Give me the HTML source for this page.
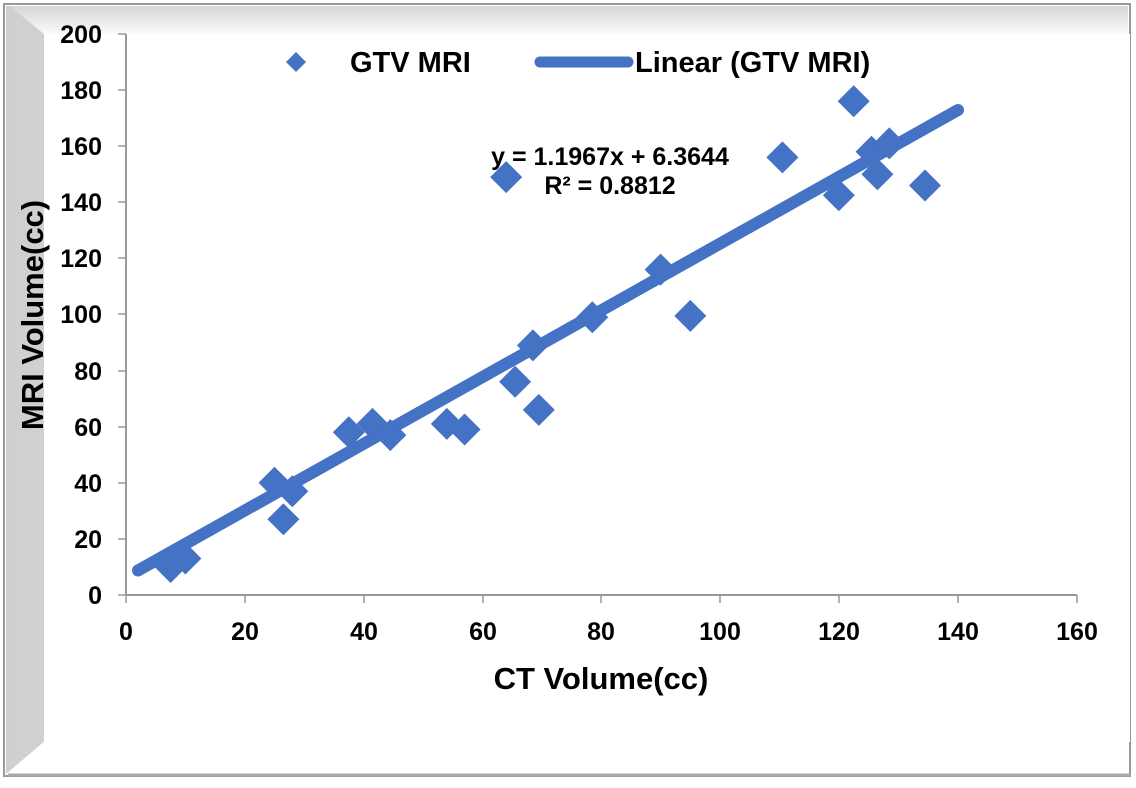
<!DOCTYPE html>
<html><head><style>
body{margin:0;background:#fff;}
svg text{font-family:"Liberation Sans",Arial,sans-serif;font-weight:bold;fill:#000;}
</style></head><body>
<svg width="1136" height="783" viewBox="0 0 1136 783" xmlns="http://www.w3.org/2000/svg">
<defs>
<linearGradient id="gl" x1="0" x2="1"><stop offset="0" stop-color="#cfcfcf"/><stop offset="1" stop-color="#fcfcfc"/></linearGradient>
<linearGradient id="gt" y1="0" y2="1" x1="0" x2="0"><stop offset="0" stop-color="#d6d6d6"/><stop offset="1" stop-color="#fafafa"/></linearGradient>
</defs>
<rect x="4" y="4" width="1126" height="772" fill="#fff" stroke="#999" stroke-width="2"/>
<polygon points="6,6 1128,6 1128,34 46,34 46,740 6,774" fill="url(#gl)"/>
<polygon points="10,6 1128,6 1128,34 44,34" fill="url(#gt)"/>
<rect x="44" y="34" width="1086" height="708" fill="#fff"/>
<line x1="8" y1="775" x2="1130" y2="775" stroke="#aaa" stroke-width="3"/>
<g stroke="#999" stroke-width="2">
<line x1="126" y1="34" x2="126" y2="595"/>
<line x1="126" y1="595" x2="1077" y2="595"/>
</g>
<g stroke="#999" stroke-width="1.5">
<line x1="118" y1="34" x2="126" y2="34"/><line x1="118" y1="90" x2="126" y2="90"/><line x1="118" y1="146" x2="126" y2="146"/><line x1="118" y1="202" x2="126" y2="202"/><line x1="118" y1="258" x2="126" y2="258"/><line x1="118" y1="314" x2="126" y2="314"/><line x1="118" y1="371" x2="126" y2="371"/><line x1="118" y1="427" x2="126" y2="427"/><line x1="118" y1="483" x2="126" y2="483"/><line x1="118" y1="539" x2="126" y2="539"/><line x1="118" y1="595" x2="126" y2="595"/>
<line x1="126" y1="595" x2="126" y2="603"/><line x1="245" y1="595" x2="245" y2="603"/><line x1="364" y1="595" x2="364" y2="603"/><line x1="483" y1="595" x2="483" y2="603"/><line x1="601" y1="595" x2="601" y2="603"/><line x1="720" y1="595" x2="720" y2="603"/><line x1="839" y1="595" x2="839" y2="603"/><line x1="958" y1="595" x2="958" y2="603"/><line x1="1077" y1="595" x2="1077" y2="603"/>
</g>
<g font-size="25" text-anchor="end">
<text x="102" y="43">200</text><text x="102" y="99">180</text><text x="102" y="155">160</text><text x="102" y="211">140</text><text x="102" y="267">120</text><text x="102" y="323">100</text><text x="102" y="380">80</text><text x="102" y="436">60</text><text x="102" y="492">40</text><text x="102" y="548">20</text><text x="102" y="604">0</text>
</g>
<g font-size="25" text-anchor="middle">
<text x="126" y="640">0</text><text x="245" y="640">20</text><text x="364" y="640">40</text><text x="483" y="640">60</text><text x="601" y="640">80</text><text x="720" y="640">100</text><text x="839" y="640">120</text><text x="958" y="640">140</text><text x="1077" y="640">160</text>
</g>
<text x="601" y="689" font-size="31" text-anchor="middle">CT Volume(cc)</text>
<text transform="translate(43,315) rotate(-90)" font-size="31" text-anchor="middle">MRI Volume(cc)</text>
<path d="M296,52 l10,10 -10,10 -10,-10z" fill="#4472c4"/>
<line x1="540" y1="62" x2="628" y2="62" stroke="#4472c4" stroke-width="11" stroke-linecap="round"/>
<text x="350" y="72" font-size="29">GTV MRI</text>
<text x="635" y="72" font-size="29">Linear (GTV MRI)</text>
<line x1="138" y1="570.5" x2="958" y2="110" stroke="#4472c4" stroke-width="12" stroke-linecap="round"/>
<g fill="#4472c4">
<path d="M170.6,551 l16,16 -16,16 -16,-16z"/>
<path d="M185.4,542.5 l16,16 -16,16 -16,-16z"/>
<path d="M274.5,466.8 l16,16 -16,16 -16,-16z"/>
<path d="M283.4,503.3 l16,16 -16,16 -16,-16z"/>
<path d="M292.3,475.2 l16,16 -16,16 -16,-16z"/>
<path d="M348.8,416.3 l16,16 -16,16 -16,-16z"/>
<path d="M372.5,407.9 l16,16 -16,16 -16,-16z"/>
<path d="M390.3,419.1 l16,16 -16,16 -16,-16z"/>
<path d="M446.8,407.9 l16,16 -16,16 -16,-16z"/>
<path d="M464.6,413.5 l16,16 -16,16 -16,-16z"/>
<path d="M506.2,161.1 l16,16 -16,16 -16,-16z"/>
<path d="M515.1,365.8 l16,16 -16,16 -16,-16z"/>
<path d="M532.9,329.4 l16,16 -16,16 -16,-16z"/>
<path d="M538.8,393.9 l16,16 -16,16 -16,-16z"/>
<path d="M592.3,301.3 l16,16 -16,16 -16,-16z"/>
<path d="M660.6,253.6 l16,16 -16,16 -16,-16z"/>
<path d="M690.3,299.9 l16,16 -16,16 -16,-16z"/>
<path d="M782.4,141.4 l16,16 -16,16 -16,-16z"/>
<path d="M838.8,179.3 l16,16 -16,16 -16,-16z"/>
<path d="M853.7,85.3 l16,16 -16,16 -16,-16z"/>
<path d="M871.5,135.8 l16,16 -16,16 -16,-16z"/>
<path d="M877.4,158.3 l16,16 -16,16 -16,-16z"/>
<path d="M889.3,127.4 l16,16 -16,16 -16,-16z"/>
<path d="M925,169.5 l16,16 -16,16 -16,-16z"/>
</g>
<text x="610" y="165" font-size="25" text-anchor="middle">y = 1.1967x + 6.3644</text>
<text x="610" y="194" font-size="25" text-anchor="middle">R² = 0.8812</text>
</svg>
</body></html>
